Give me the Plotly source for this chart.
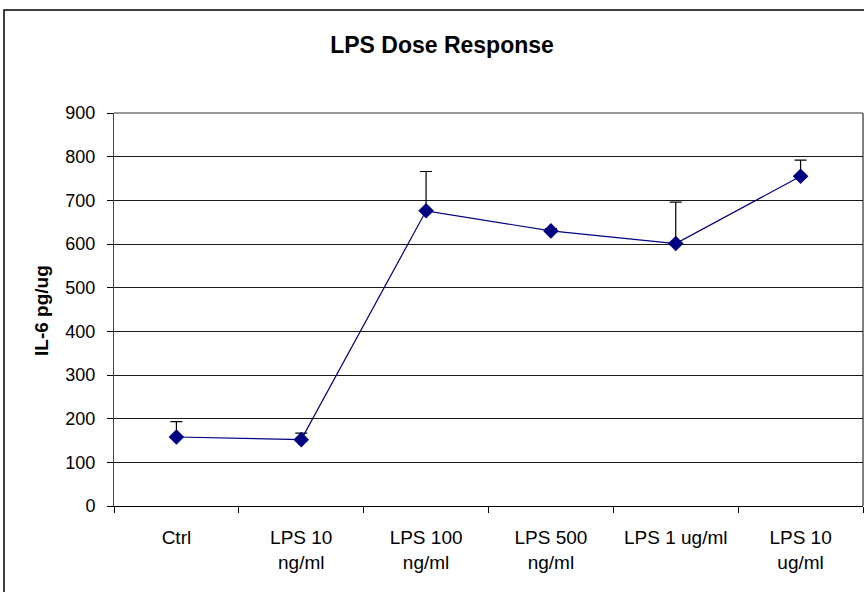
import plotly.graph_objects as go

categories = ["Ctrl", "LPS 10<br>ng/ml", "LPS 100<br>ng/ml", "LPS 500<br>ng/ml", "LPS 1 ug/ml", "LPS 10<br>ug/ml"]
il6_values = [158, 152, 676, 630, 601, 755]
il6_err_plus = [35, 15, 90, 5, 95, 37]
y_ticks = [0, 100, 200, 300, 400, 500, 600, 700, 800, 900]

FONT = "Liberation Sans, Arial, sans-serif"
W, H = 864, 592
L, R, T, B = 114, 1, 113, 86
PW, PH = W - L - R, H - T - B

fig = go.Figure()
fig.add_trace(go.Scatter(
    x=categories, y=il6_values, mode="lines+markers",
    line=dict(color="#000080", width=1.2),
    marker=dict(symbol="diamond", size=12, color="#000080"),
    error_y=dict(type="data", symmetric=False, array=il6_err_plus,
                 arrayminus=[0] * len(il6_values), color="black",
                 thickness=1.2, width=6),
    showlegend=False,
))

fig.update_layout(
    width=W, height=H,
    margin=dict(l=L, r=R, t=T, b=B),
    paper_bgcolor="white", plot_bgcolor="white",
    font=dict(family=FONT, size=18, color="black"),
    title=dict(text="<b>LPS Dose Response</b>", x=442 / W, xanchor="center",
               y=1 - 45 / H, yanchor="middle",
               font=dict(family=FONT, size=23, color="black")),
    xaxis=dict(type="category", tickson="boundaries", ticks="outside",
               ticklen=6, tickcolor="black", showline=True, linecolor="black",
               linewidth=1, showgrid=False, tickfont=dict(size=19),
               ticklabelstandoff=14, range=[-0.5, 5.5]),
    yaxis=dict(range=[0, 900], tickvals=y_ticks, ticks="outside", ticklen=6,
               tickcolor="black", showline=True, linecolor="#444",
               linewidth=1, showgrid=True, gridcolor="#1a1a1a", gridwidth=1,
               zeroline=False, tickfont=dict(size=18), ticklabelstandoff=8),
    annotations=[
        dict(text="<b>IL-6 pg/ug</b>", xref="paper", yref="paper",
             x=(41 - L) / PW, y=(506 - 311) / PH, xanchor="center", yanchor="middle",
             textangle=-90, showarrow=False, font=dict(family=FONT, size=19, color="black")),
    ],
    shapes=[
        dict(type="rect", xref="paper", yref="paper",
             x0=(4 - L) / PW, x1=(870 - L) / PW, y0=(506 - 600) / PH, y1=(506 - 10) / PH,
             line=dict(color="black", width=1.5), fillcolor="rgba(0,0,0,0)", layer="below"),
        dict(type="line", xref="paper", yref="paper", x0=1, x1=1, y0=0, y1=1,
             line=dict(color="black", width=1)),
        dict(type="line", xref="paper", yref="paper", x0=0, x1=1, y0=1, y1=1,
             line=dict(color="#777", width=1.5)),
    ],
)

fig.write_html("out.html", config={"displayModeBar": False},
               post_script="document.body.style.margin='0';document.body.style.overflow='hidden';")
